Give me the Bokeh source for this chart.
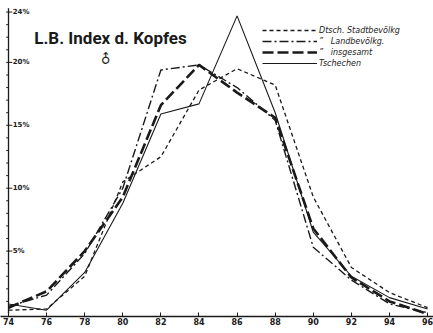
import math
from bokeh.plotting import figure
from bokeh.models import Range1d, Legend, LegendItem, FixedTicker
from bokeh.core.properties import value
from bokeh.embed import file_html
from bokeh.resources import INLINE

# Data (L.B. Index of head, percent)
index = [74, 76, 78, 80, 82, 84, 86, 88, 90, 92, 94, 96]
stadt = [0.3, 0.4, 3.0, 10.5, 12.5, 17.8, 19.5, 18.2, 9.3, 3.7, 1.7, 0.5]
land = [0.6, 1.5, 4.8, 10.0, 19.4, 19.8, 18.0, 15.4, 5.3, 2.7, 0.8, 0.1]
insgesamt = [0.5, 1.8, 5.0, 9.3, 16.6, 19.8, 17.6, 15.6, 6.8, 2.9, 1.0, 0.0]
tschechen = [0.8, 0.3, 3.3, 8.8, 15.9, 16.7, 23.7, 16.0, 6.5, 3.0, 1.3, 0.4]

y_ticks = [5, 10, 15, 20, 24]
y_tick_labels = ["5%", "10%", "15%", "20%", "24%"]
x_tick_labels = [str(v) for v in index]

ink = "#1a1a1a"

p = figure(width=433, height=333, output_backend="svg", toolbar_location=None,
           x_range=Range1d(73.58, 96.31), y_range=Range1d(-0.2, 24.92),
           min_border_left=0, min_border_right=0, min_border_top=0, min_border_bottom=17)
p.outline_line_color = None
p.grid.visible = False
p.yaxis.visible = False
p.background_fill_color = "white"
p.border_fill_color = "white"

xa = p.xaxis[0]
xa.ticker = FixedTicker(ticks=index)
xa.major_label_overrides = {v: s for v, s in zip(index, x_tick_labels)}
xa.axis_line_color = ink
xa.axis_line_width = 1.5
xa.major_tick_in = 4
xa.major_tick_out = 0
xa.minor_tick_line_color = None
xa.major_tick_line_color = ink
xa.major_label_standoff = 1
xa.major_label_text_font = "DejaVu Sans"
xa.major_label_text_font_size = "8px"
xa.major_label_text_font_style = "bold"
xa.major_label_text_color = ink

# left axis line and ticks drawn inside the frame
p.segment(x0=[index[0]], y0=[0], x1=[index[0]], y1=[y_ticks[-1] + 0.3],
          line_color=ink, line_width=1.3)
minor = list(range(1, y_ticks[-1] + 1))
p.segment(x0=[index[0] - 0.12] * len(minor), y0=minor,
          x1=[index[0]] * len(minor), y1=minor, line_color=ink, line_width=1)
p.segment(x0=[index[0]] * len(y_ticks), y0=y_ticks,
          x1=[index[0] + 0.2] * len(y_ticks), y1=y_ticks, line_color=ink, line_width=1)
p.text(x=[index[0] + 0.22] * len(y_ticks), y=y_ticks, text=y_tick_labels,
       text_font=value("DejaVu Sans"), text_font_size="7px", text_font_style="bold",
       text_baseline="middle", text_align="left", text_color=ink)

r_stadt = p.line(index, stadt, line_color=ink, line_width=1.3, line_dash="4 3")
r_land = p.line(index, land, line_color=ink, line_width=1.4, line_dash="9 3 2 3")
r_ins = p.line(index, insgesamt, line_color=ink, line_width=2.6, line_dash="11 4")
r_tsch = p.line(index, tschechen, line_color=ink, line_width=1.1)

legend = Legend(items=[
    LegendItem(label="Dtsch. Stadtbevölkg", renderers=[r_stadt]),
    LegendItem(label="\u201d   Landbevölkg.", renderers=[r_land]),
    LegendItem(label="\u201d   insgesamt", renderers=[r_ins]),
    LegendItem(label="Tschechen", renderers=[r_tsch]),
], location=(262, 248))
legend.background_fill_alpha = 0
legend.border_line_color = None
legend.glyph_width = 55
legend.glyph_height = 10
legend.label_height = 10
legend.spacing = 1
legend.padding = 2
legend.margin = 0
legend.label_standoff = 2
legend.label_text_font = "DejaVu Sans"
legend.label_text_font_size = "8px"
legend.label_text_font_style = "italic"
legend.label_text_color = ink
p.add_layout(legend, "center")

# title
p.text(x=[index[0] + 1.35], y=[21.9], text=["L.B. Index d. Kopfes"],
       text_font=value("Roboto"), text_font_size="17px",
       text_font_style="bold", text_baseline="middle", text_color=ink)
p.text(x=[index[0] + 5.1], y=[20.3], text=["\u2642"], angle=math.pi / 4,
       text_font=value("DejaVu Sans"), text_font_size="13px", text_font_style="bold",
       text_baseline="middle", text_align="center", text_color=ink)

open("out.html", "w").write(file_html(p, INLINE))
